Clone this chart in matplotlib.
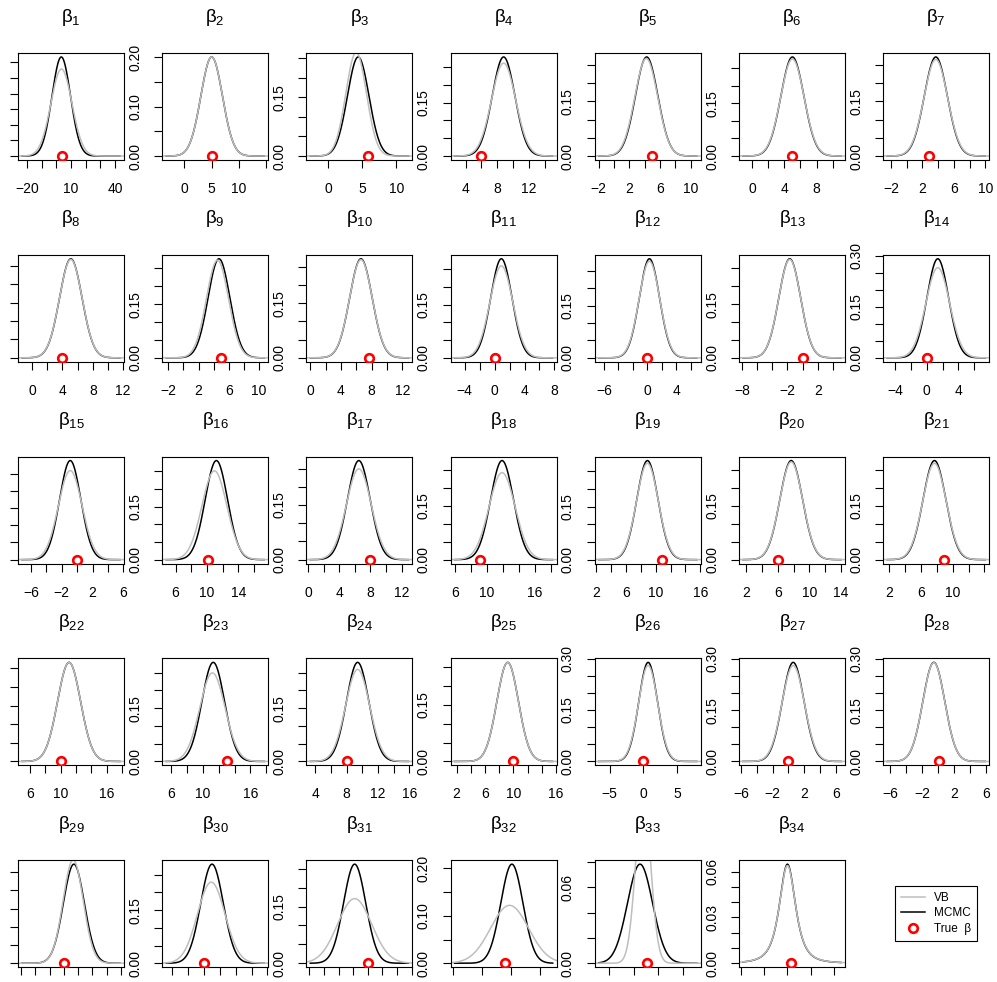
import math
import numpy as np
import matplotlib
matplotlib.use("Agg")
import matplotlib.pyplot as plt
from matplotlib.lines import Line2D

plt.rcParams['font.family'] = ['Liberation Sans', 'DejaVu Sans']
plt.rcParams['mathtext.fontset'] = 'custom'
plt.rcParams['mathtext.rm'] = 'Liberation Sans'
plt.rcParams['mathtext.it'] = 'Liberation Sans'

# x axis limits of each panel
xlim_lo = [-26, -4.1, -3.2, 2.1, -2.5, -1.6, -3.0,
           -1.85, -2.8, -0.5, -5.9, -7.25, -8.4, -5.5,
           -7.7, 4.3, -0.25, 5.43, 1.85, 1.1, 1.24,
           4.45, 4.85, 2.85, 1.15, -7.2, -6.25, -6.9,
           1.6, 2.7, 1.6, -0.35, -15.7, -31.4]
xlim_hi = [46, 15.4, 12.35, 15.5, 11.3, 11.5, 10.5,
           12.1, 11.2, 13.3, 8.3, 7.4, 5.6, 7.9,
           6.1, 17.8, 13.4, 18.76, 16.05, 14.5, 14.6,
           18.25, 18.25, 16.4, 16.1, 8.5, 7.15, 6.4,
           16.4, 16.1, 16.1, 17.9, 27.3, 37.3]

# x ticks (first, last, step) and the tick labels that are printed
xt_first = [-20, 0, 0, 4, -2, 0, -2,
            0, -2, 0, -4, -6, -8, -4,
            -6, 6, 0, 6, 2, 2, 2,
            6, 6, 4, 2, -5, -6, -6,
            2, 4, 2, 0, -10, -30]
xt_last = [40, 15, 10, 14, 10, 10, 10,
           12, 10, 12, 8, 6, 4, 6,
           6, 16, 12, 18, 16, 14, 14,
           18, 18, 16, 16, 5, 6, 6,
           16, 16, 16, 15, 20, 30]
xt_step = [10, 5, 5, 2, 2, 2, 2,
           2, 2, 2, 2, 2, 2, 2,
           2, 2, 2, 2, 2, 2, 2,
           2, 2, 2, 2, 5, 2, 2,
           2, 2, 2, 5, 10, 15]
xt_shown = [[-20, 10, 40], [0, 5, 10], [0, 5, 10], [4, 8, 12], [-2, 2, 6, 10], [0, 4, 8], [-2, 2, 6, 10],
            [0, 4, 8, 12], [-2, 2, 6, 10], [0, 4, 8, 12], [-4, 0, 4, 8], [-6, 0, 4], [-8, -2, 2], [-4, 0, 4],
            [-6, -2, 2, 6], [6, 10, 14], [0, 4, 8, 12], [6, 10, 16], [2, 6, 10, 16], [2, 6, 10, 14], [2, 6, 10],
            [6, 10, 16], [6, 10, 16], [4, 8, 12, 16], [2, 6, 10, 16], [-5, 0, 5], [-6, -2, 2, 6], [-6, -2, 2, 6],
            [], [], [], [], [], []]

# y ticks step and the tick labels that are printed (first column: off the page)
yt_step = [0.01, 0.05, 0.05, 0.05, 0.05, 0.05, 0.05,
           0.05, 0.05, 0.05, 0.05, 0.05, 0.05, 0.05,
           0.05, 0.05, 0.05, 0.05, 0.05, 0.05, 0.05,
           0.05, 0.05, 0.05, 0.05, 0.05, 0.05, 0.05,
           0.05, 0.05, 0.05, 0.05, 0.02, 0.01]
yt_shown = [[], [0.0, 0.10, 0.20], [0.0, 0.15], [0.0, 0.15], [0.0, 0.15], [0.0, 0.15], [0.0, 0.15],
            [], [0.0, 0.15], [0.0, 0.15], [0.0, 0.15], [0.0, 0.15], [0.0, 0.15], [0.0, 0.15, 0.30],
            [], [0.0, 0.15], [0.0, 0.15], [0.0, 0.15], [0.0, 0.15], [0.0, 0.15], [0.0, 0.15],
            [], [0.0, 0.15], [0.0, 0.15], [0.0, 0.15], [0.0, 0.15, 0.30], [0.0, 0.15, 0.30], [0.0, 0.15, 0.30],
            [], [0.0, 0.15], [0.0, 0.15], [0.0, 0.10, 0.20], [0.0, 0.06], [0.0, 0.03, 0.06]]

# posterior summaries (df = 0 means normal shape)
mcmc_mean = [3.4, 5.0, 4.4, 8.8, 4.25, 5.0, 3.7,
             5.1, 4.7, 6.6, 0.9, 0.3, -1.7, 1.4,
             -0.9, 11.2, 6.5, 11.9, 8.9, 7.7, 7.7,
             11.1, 11.3, 9.4, 9.2, 0.7, 0.6, -0.55,
             9.4, 9.0, 8.2, 10.2, 2.65, 0.0]
mcmc_sd = [6.28, 1.985, 1.58, 1.435, 1.467, 1.42, 1.467,
           1.48, 1.44, 1.467, 1.425, 1.40, 1.44, 1.37,
           1.385, 1.425, 1.467, 1.44, 1.425, 1.44, 1.44,
           1.5, 1.43, 1.43, 1.52, 1.38, 1.375, 1.375,
           1.467, 1.425, 1.52, 1.91, 5.1, 5.57]
vb_mean = [3.5, 5.0, 4.1, 8.8, 4.2, 5.0, 3.7,
           5.1, 4.5, 6.6, 0.9, 0.3, -1.7, 1.4,
           -0.9, 10.95, 6.5, 11.9, 8.9, 7.7, 7.7,
           11.1, 11.2, 9.4, 9.2, 0.7, 0.6, -0.55,
           9.3, 8.9, 8.2, 9.8, 3.9, 0.0]
vb_sd = [7.15, 1.985, 1.51, 1.53, 1.49, 1.45, 1.505,
         1.49, 1.46, 1.48, 1.535, 1.435, 1.45, 1.505,
         1.54, 1.59, 1.6, 1.64, 1.465, 1.46, 1.48,
         1.5, 1.6, 1.54, 1.52, 1.425, 1.42, 1.38,
         1.405, 1.74, 2.33, 3.27, 3.0, 5.65]
shape_df = [0] * 33 + [2.5]
true_beta = [4.0, 5.0, 5.9, 6.0, 5.0, 5.0, 2.85,
             4.0, 4.9, 7.7, 0.0, 0.0, 0.0, 0.0,
             0.0, 10.1, 8.0, 9.1, 10.9, 6.0, 8.9,
             10.0, 13.0, 8.1, 10.0, 0.0, 0.0, 0.1,
             8.0, 8.0, 10.0, 9.1, 5.5, 2.6]


def dens(x, m, s, df):
    z = (x - m) / s
    if df == 0:
        return np.exp(-0.5 * z ** 2) / (s * np.sqrt(2 * np.pi))
    k = math.gamma((df + 1) / 2) / (math.sqrt(df * math.pi) * math.gamma(df / 2))
    return k / s * (1 + z ** 2 / df) ** (-(df + 1) / 2)


def fmt(v, nd=0):
    if nd:
        txt = f"{v:.{nd}f}"
    else:
        txt = f"{v:g}"
    return txt.replace('-', '\u2212')


W, H = 997, 982
fig = plt.figure(figsize=(W / 100, H / 100), dpi=100)

for i in range(34):
    r, c = divmod(i, 7)
    left = 18 + 144.2 * c
    top = 53 + 201.8 * r
    ax = fig.add_axes([left / W, 1 - (top + 107) / H, 106 / W, 107 / H])

    lo, hi = xlim_lo[i], xlim_hi[i]
    span = hi - lo
    a = lo + span * 0.04 / 1.08
    b = hi - span * 0.04 / 1.08
    xm = np.linspace(a, b, 400)
    xv = np.linspace(lo - span, hi + span, 800)

    ym = dens(xm, mcmc_mean[i], mcmc_sd[i], shape_df[i])
    top_y = ym.max()
    ax.plot(xm, ym, color='black', lw=1.1)
    ax.plot(xv, dens(xv, vb_mean[i], vb_sd[i], shape_df[i]), color='#BEBEBE', lw=1.1)
    ax.plot([true_beta[i]], [0], ls='', marker='o', ms=6.2, mfc='none',
            mec='red', mew=1.9, zorder=5)

    ax.set_xlim(lo, hi)
    ax.set_ylim(-0.04 * top_y, 1.04 * top_y)

    xt = np.arange(xt_first[i], xt_last[i] + xt_step[i] / 2, xt_step[i])
    ax.set_xticks(xt, labels=[fmt(v) if v in xt_shown[i] else '' for v in xt])
    yt = np.arange(0, 1.04 * top_y, yt_step[i])
    ylabs = []
    for v in yt:
        shown = any(abs(v - s) < 1e-9 for s in yt_shown[i])
        ylabs.append(fmt(v, 2) if shown else '')
    ax.set_yticks(yt, labels=ylabs)
    for lab in ax.get_yticklabels():
        lab.set_rotation(90)
        lab.set_va('center')

    ax.tick_params(axis='both', direction='out', length=5.8, width=0.8,
                   labelsize=10, color='black')
    ax.tick_params(axis='x', pad=10)
    ax.tick_params(axis='y', pad=8.5)
    for sp in ax.spines.values():
        sp.set_linewidth(0.8)

    fig.text((left + 53) / W, 1 - (top - 36) / H, r'$\mathrm{β}_{%d}$' % (i + 1),
             ha='center', va='center', fontsize=13.5)

handles = [Line2D([], [], color='#BEBEBE', lw=1.1),
           Line2D([], [], color='black', lw=1.1),
           Line2D([], [], ls='', marker='o', ms=6.2, mfc='none', mec='red', mew=1.9)]
leg = fig.legend(handles, ['VB', 'MCMC', 'True  β'], loc='center',
                 bbox_to_anchor=(936 / W, 1 - 913.5 / H), fontsize=8.5,
                 frameon=True, fancybox=False, edgecolor='black', framealpha=1,
                 handlelength=2.0, labelspacing=0.3, borderpad=0.5, handletextpad=0.8)
leg.get_frame().set_linewidth(0.8)

fig.savefig('out.png', dpi=100)
